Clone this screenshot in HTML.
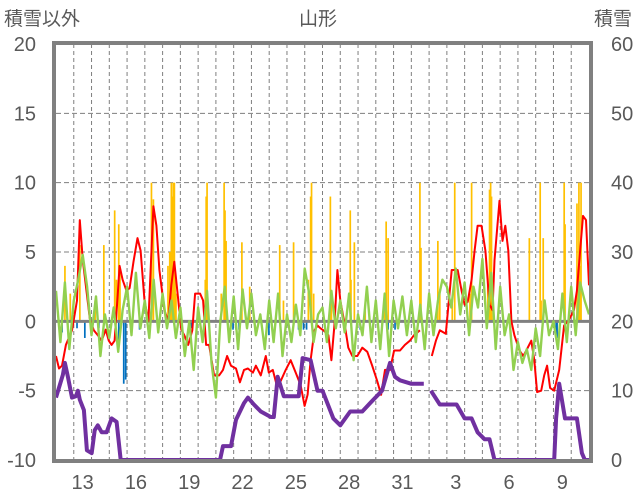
<!DOCTYPE html>
<html><head><meta charset="utf-8"><style>
body{margin:0;background:#fff;}
svg{display:block;font-family:"Liberation Sans","Noto Sans CJK JP",sans-serif;}
</style></head><body>
<svg id="chart" width="636" height="501"></svg>
<script>
const dayLabels=["13","16","19","22","25","28","31","3","6","9"];
const dayLabelIdx=[1,4,7,10,13,16,19,22,25,28];
const leftTicks=[-10,-5,0,5,10,15,20];
const rightTicks=[0,10,20,30,40,50,60];
const redT=[0,.17,.34,.56,.9,1.18,1.34,1.51,1.68,1.9,2.13,2.35,2.57,2.8,2.97,3.13,3.3,3.47,3.58,3.75,3.97,4.14,4.36,4.59,4.76,4.98,5.2,5.48,5.65,5.82,6.1,6.32,6.49,6.66,6.83,7.05,7.22,7.44,7.67,7.83,8.11,8.28,8.45,8.62,8.9,9.18,9.4,9.63,9.85,10.13,10.35,10.58,10.8,11.08,11.25,11.53,11.81,11.98,12.2,12.42,12.65,12.93,13.21,13.49,13.77,13.99,14.16,14.33,14.55,14.72,14.89,15.05,15.33,15.5,15.67,15.84,16,16.23,16.45,16.68,16.96,17.24,17.52,17.8,18.08,18.3,18.52,18.8,19.03,19.36,19.64,19.92,20.15,20.48,20.82,21.15,21.38,21.6,21.94,22.27,22.61,22.83,23,23.17,23.39,23.56,23.73,23.95,24.17,24.4,24.57,24.68,24.96,25.13,25.29,25.46,25.63,25.8,26.08,26.3,26.47,26.75,26.92,27.08,27.31,27.48,27.64,27.81,28.04,28.32,28.6,28.82,28.99,29.15,29.32,29.43,29.66,29.83,30];
const redV=[-2.5,-3.4,-3.2,-1.7,-.65,1.5,7.3,4.4,2.6,.2,-.65,-1,-1.4,-.6,-1.4,-1.7,-1.4,1.9,4,3,2.2,2.4,4.3,6,5.1,1.5,0,8.3,6.9,3.7,.8,0,2.6,4.3,2.2,-.6,-1,-1.7,-.65,2,2,1.5,-1.7,-1.7,-3.9,-3.9,-3.5,-2.5,-3.2,-3.4,-4.4,-3.5,-3.4,-3.7,-3.2,-3.9,-2.5,-3.7,-3.5,-4.6,-4.3,-3.5,-2.8,-3.7,-4.6,-6.1,-5.3,-2.8,-.65,-.3,-.5,-.65,-1,-2.8,-.3,3.7,1.5,-.1,-1.9,-2.5,-2.5,-1.9,-2.2,-3.2,-4.3,-5.3,-3.5,-3.5,-2.1,-2.1,-1.7,-1.4,-1,-.65,null,-2.5,-1.4,-.65,-.9,3.7,3.7,2.2,1.2,1.4,3,5.1,6.9,6.9,5.1,1.2,.8,4.4,8.7,5.8,6.9,5.1,0,-1,-2.1,-2.5,-2.1,-1.4,-2.8,-5.1,-5,-3.9,-3.2,-4.8,-5,-3.5,-.3,0,.4,.8,2.2,4,7.6,7.3,2.6];
const greenV=[2.2,-1.5,2.8,-2,1.5,3,4.8,2.5,-1,1.8,-2.5,.5,-1.2,1,-2.2,.8,2.5,-1,3.5,-.5,1.5,-1.2,3,-.8,2,-.5,1.5,-1.2,1,-2.5,0,-3.5,1,-1.5,2.2,-3,-5.5,0,2.5,-1.5,1.8,-2,2.3,-.5,2,-1,.5,-2,1.5,-1.5,2,-2.5,.5,-1.5,1.2,-1,3.8,2,-1.5,.5,1,-1.5,2.2,-.5,1.5,-.8,2,-2.8,.5,-1,2.5,-1.5,1.5,-2,2,-2.5,1.5,-.5,1.8,-1,1.5,-1.5,1.2,-2,2,-1,1.5,3,2.5,1,3.8,.5,2.8,-1,2.5,1,4.5,-.5,3.5,-2,2.5,-1,.5,-3.5,-1.5,-3,-2,-3.5,-.5,-2.5,1.5,-1,0,-2,2,-1.5,2.5,-1,2.8,1.5,.5];
const purpleT=[0,.39,.5,.67,.9,1.12,1.23,1.34,1.57,1.74,2.01,2.18,2.35,2.57,2.85,3.13,3.41,3.64,9.23,9.4,9.85,10.13,10.58,10.8,11.14,11.53,12.09,12.26,12.48,12.82,13.32,13.66,13.88,14.33,14.72,15,15.61,16,16.56,17.24,17.68,18.35,18.8,19.08,19.36,19.98,20.26,20.7,20.9,21.1,21.6,22.55,23,23.39,23.73,24.12,24.4,24.68,28.04,28.15,28.32,28.65,29.32,29.6,29.77,30];
const purpleV=[9,12.3,14,12,9,9.2,10,8.7,7.2,1.4,1,4.3,5,4,4,6,5.5,0,0,2,2,5.8,8.2,9,8,7,6.2,6.2,12,9.2,9.2,9.2,14.7,14.4,10,10,6,5,7,7,8.2,10,14,12,11.5,11,11,11,null,10,8,8,6,6,4,3,3,0,0,6,11,6,6,1,0,0];
const yellowT=[.5,1.34,2.69,3.3,3.53,5.37,5.48,6.49,6.55,6.6,6.66,8.45,8.5,9.46,9.51,9.57,10.46,12.59,13.37,14.33,14.38,15.44,16.56,16.79,18.58,18.69,20.48,20.54,21.49,22.44,23.39,24.4,24.46,24.51,26.64,27.25,27.42,28.6,28.65,29.32,29.43,29.55,.8,2.2,3.4,3.6,6.3,6.4,6.7,6.75,8.4,9.3,10.9,12.8,14.2,14.5,15.5,16.6,17.4,18.5,21.6,22.3,23.3,24.3,24.6,27.3,29.4,29.5];
const yellowV=[4,5.5,5.5,8,7,10,8.8,10,9,10,10,9,10,10,8,5.8,5.7,5.5,5.7,9,10,9,8,5.7,7.2,6,10,5.3,5.8,10,10,9.5,10,9,6,10,6,10,7,8.5,10,10,2,1.5,3,3.5,4,5,3,2,3,2,2.5,1.5,3,2,2,3,1,2,2,1.5,2,3,2.5,1.5,2.5,4];
const blueT=[.34,1.18,1.62,2.41,3.53,3.81,3.92,4.25,4.7,7.61,9.96,10.13,10.3,11.98,13.65,13.93,14.1,17.12,18.69,19.08,19.25,28.15,28.2];
const blueV=[-.8,-.5,-1.2,-.5,-1.5,-4.5,-4.2,-1,-.6,-.5,-.6,-.6,-.6,-1,-.6,-.6,-.6,-.6,-.6,-.6,-.5,-1.2,-1.2];

const L=56,R=589,T=44,B=460;
const xs=t=>L+(R-L)*t/30;
const yl=v=>B-(v+10)/30*(B-T);
const yr=v=>B-v/60*(B-T);
const svg=document.getElementById('chart');
const NS='http://www.w3.org/2000/svg';
function mk(tag,attrs,parent){const e=document.createElementNS(NS,tag);for(const k in attrs)e.setAttribute(k,attrs[k]);(parent||svg).appendChild(e);return e;}
function txt(x,y,s,anchor,size){const e=mk('text',{x:x,y:y,'text-anchor':anchor,'font-size':size,fill:'#595959'});e.textContent=s;return e;}

for(let d=1;d<30;d++){const g=mk('line',{x1:xs(d),x2:xs(d),y1:T,y2:B,stroke:'#7f7f7f','stroke-width':1,'stroke-dasharray':'4,3'});

}
[-5,5,10,15].forEach(v=>{const g=mk('line',{x1:L,x2:R,y1:yl(v),y2:yl(v),stroke:'#7f7f7f','stroke-width':1,'stroke-dasharray':'5,3'});

});

yellowT.forEach((t,i)=>{const v=yellowV[i];const r=mk('rect',{x:xs(t)-0.8,y:yl(v),width:1.7,height:yl(0)-yl(v),fill:'#ffc000'});

});
blueT.forEach((t,i)=>{const v=blueV[i];const r=mk('rect',{x:xs(t)-0.8,y:yl(0),width:1.7,height:yl(v)-yl(0),fill:'#0070c0'});

});

const z=mk('line',{x1:L,x2:R,y1:yl(0),y2:yl(0),stroke:'#808080','stroke-width':3});



function pathFrom(ts,vs,yf){let d='',pen=false;ts.forEach((t,i)=>{const v=vs[i];if(v===null){pen=false;return;}d+=(pen?'L':'M')+xs(t).toFixed(1)+','+yf(v).toFixed(1);pen=true;});return d;}
const red=mk('path',{d:pathFrom(redT,redV,yl),fill:'none',stroke:'#ff0000','stroke-width':2,'stroke-linejoin':'round'});


const greenT=greenV.map((v,i)=>i*0.25);
const green=mk('path',{d:pathFrom(greenT,greenV,yl),fill:'none',stroke:'#92d050','stroke-width':2.4,'stroke-linejoin':'round'});


const purple=mk('path',{d:pathFrom(purpleT,purpleV,yr),fill:'none',stroke:'#7030a0','stroke-width':4,'stroke-linejoin':'round'});



const bd=mk('rect',{x:L-2,y:T-1,width:R-L+4,height:B-T+2,fill:'none',stroke:'#808080','stroke-width':4});



leftTicks.forEach(v=>{const e=txt(36,yl(v)+7,String(v),'end',20);

});
rightTicks.forEach(v=>{const e=txt(611,yr(v)+7,String(v),'start',20);

});
dayLabels.forEach((s,i)=>{const e=txt(xs(dayLabelIdx[i]+0.5),489,s,'middle',20);

});
const t1=txt(318,25,'山形','middle',19);


const t2=txt(4,25,'積雪以外','start',19);


const t3=txt(632,25,'積雪','end',19);


</script>
</body></html>
